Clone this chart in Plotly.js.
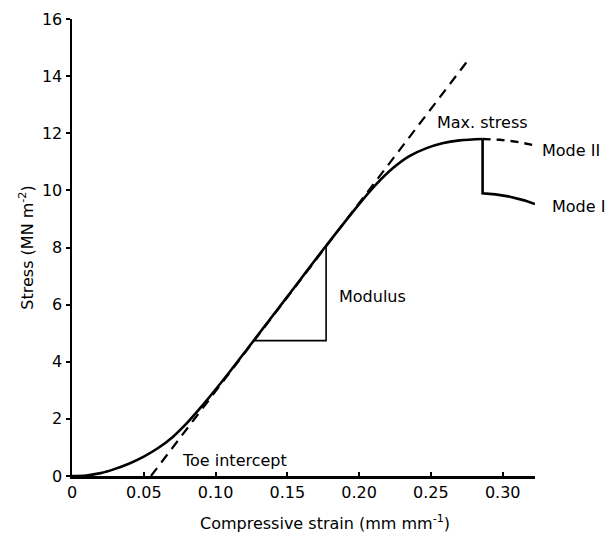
<!DOCTYPE html>
<html>
<head>
<meta charset="utf-8">
<script src="https://cdn.plot.ly/plotly-3.0.1.min.js"></script>
<style>
  html, body { margin: 0; padding: 0; background: #fff; }
  #chart { width: 612px; height: 535px; }
</style>
</head>
<body>
<div id="chart"></div>
<script>
// Stress–strain curve (compressive), with the linear tangent and failure modes
var strain = [0, 0.010, 0.020, 0.030, 0.040, 0.050, 0.060, 0.070, 0.080, 0.090, 0.100,
              0.110, 0.125, 0.150, 0.175, 0.200, 0.212, 0.224, 0.235, 0.247, 0.258, 0.270, 0.286];
var stress = [0, 0.02, 0.10, 0.25, 0.44, 0.68, 0.98, 1.36, 1.85, 2.42, 3.03,
              3.66, 4.64, 6.28, 7.93, 9.52, 10.22, 10.80, 11.20, 11.48, 11.65, 11.75, 11.80];

// Tangent through the linear region, extended down to the toe intercept
var tangentStrain = [0.055, 0.275];
var tangentStress = [0, 14.5];

// Mode I: sudden drop after the maximum stress, then gradual softening
var modeIStrain = [0.286, 0.286, 0.295, 0.305, 0.315, 0.3225];
var modeIStress = [11.80, 9.90, 9.86, 9.78, 9.65, 9.52];

// Mode II: gradual fall-off after the maximum stress
var modeIIStrain = [0.286, 0.298, 0.310, 0.321];
var modeIIStress = [11.80, 11.77, 11.70, 11.59];

// Modulus triangle on the linear part of the curve
var modStrain = [0.1267, 0.177, 0.177];
var modStress = [4.74, 4.74, 8.03];

var xTicks = [0, 0.05, 0.10, 0.15, 0.20, 0.25, 0.30];
var xTickText = ['0', '0.05', '0.10', '0.15', '0.20', '0.25', '0.30'];
var yTicks = [0, 2, 4, 6, 8, 10, 12, 14, 16];
var xMax = 0.3225;
var yMax = 16;

var FONT = 'DejaVu Sans, Liberation Sans, sans-serif';
var textFont = { family: FONT, size: 16, color: '#000' };

var traces = [
  { x: tangentStrain, y: tangentStress, mode: 'lines',
    line: { color: '#000', width: 2.2, dash: '10px,7px' } },
  { x: strain, y: stress, mode: 'lines',
    line: { color: '#000', width: 2.6, shape: 'spline', smoothing: 1 } },
  { x: modeIStrain, y: modeIStress, mode: 'lines',
    line: { color: '#000', width: 2.6 } },
  { x: modeIIStrain, y: modeIIStress, mode: 'lines',
    line: { color: '#000', width: 2.4, dash: '8px,6px' } },
  { x: modStrain, y: modStress, mode: 'lines',
    line: { color: '#000', width: 1.6 } }
];

// Labels inside the plot use data coordinates; the two mode labels sit
// past the end of the x axis, so they are placed as fractions of the range.
var annotations = [
  { x: 0.286, y: 12.36, xref: 'x', yref: 'y', text: 'Max. stress', xanchor: 'center' },
  { x: 0.3257 / xMax, y: 11.41 / yMax, xref: 'paper', yref: 'paper', text: 'Mode II', xanchor: 'left' },
  { x: 0.3326 / xMax, y: 9.42 / yMax, xref: 'paper', yref: 'paper', text: 'Mode I', xanchor: 'left' },
  { x: 0.1844, y: 6.27, xref: 'x', yref: 'y', text: 'Modulus', xanchor: 'left' },
  { x: 0.075, y: 0.56, xref: 'x', yref: 'y', text: 'Toe intercept', xanchor: 'left' },
  { x: 0.5464, y: -0.1028, xref: 'paper', yref: 'paper',
    text: 'Compressive strain (mm mm<sup>-1</sup>)', xanchor: 'center' }
].map(function (a) {
  a.yanchor = 'middle'; a.showarrow = false; a.font = textFont;
  return a;
});

var layout = {
  width: 612, height: 535,
  margin: { l: 72, r: 77, t: 19, b: 59 },
  paper_bgcolor: '#fff', plot_bgcolor: '#fff',
  showlegend: false,
  font: textFont,
  xaxis: {
    range: [0, xMax], tickvals: xTicks, ticktext: xTickText,
    ticks: 'inside', ticklen: 4, tickwidth: 2, tickcolor: '#000',
    showline: true, linecolor: '#000', linewidth: 2.5,
    showgrid: false, zeroline: false, fixedrange: true,
    tickfont: textFont
  },
  yaxis: {
    range: [0, yMax], tickvals: yTicks,
    ticks: 'outside', ticklen: 4, tickwidth: 2, tickcolor: '#000',
    showline: true, linecolor: '#000', linewidth: 2.5,
    showgrid: false, zeroline: false, fixedrange: true,
    tickfont: textFont,
    title: { text: 'Stress (MN m<sup>-2</sup>)', standoff: 5, font: textFont }
  },
  annotations: annotations
};

Plotly.newPlot('chart', traces, layout, { displayModeBar: false, staticPlot: true });
</script>
</body>
</html>
